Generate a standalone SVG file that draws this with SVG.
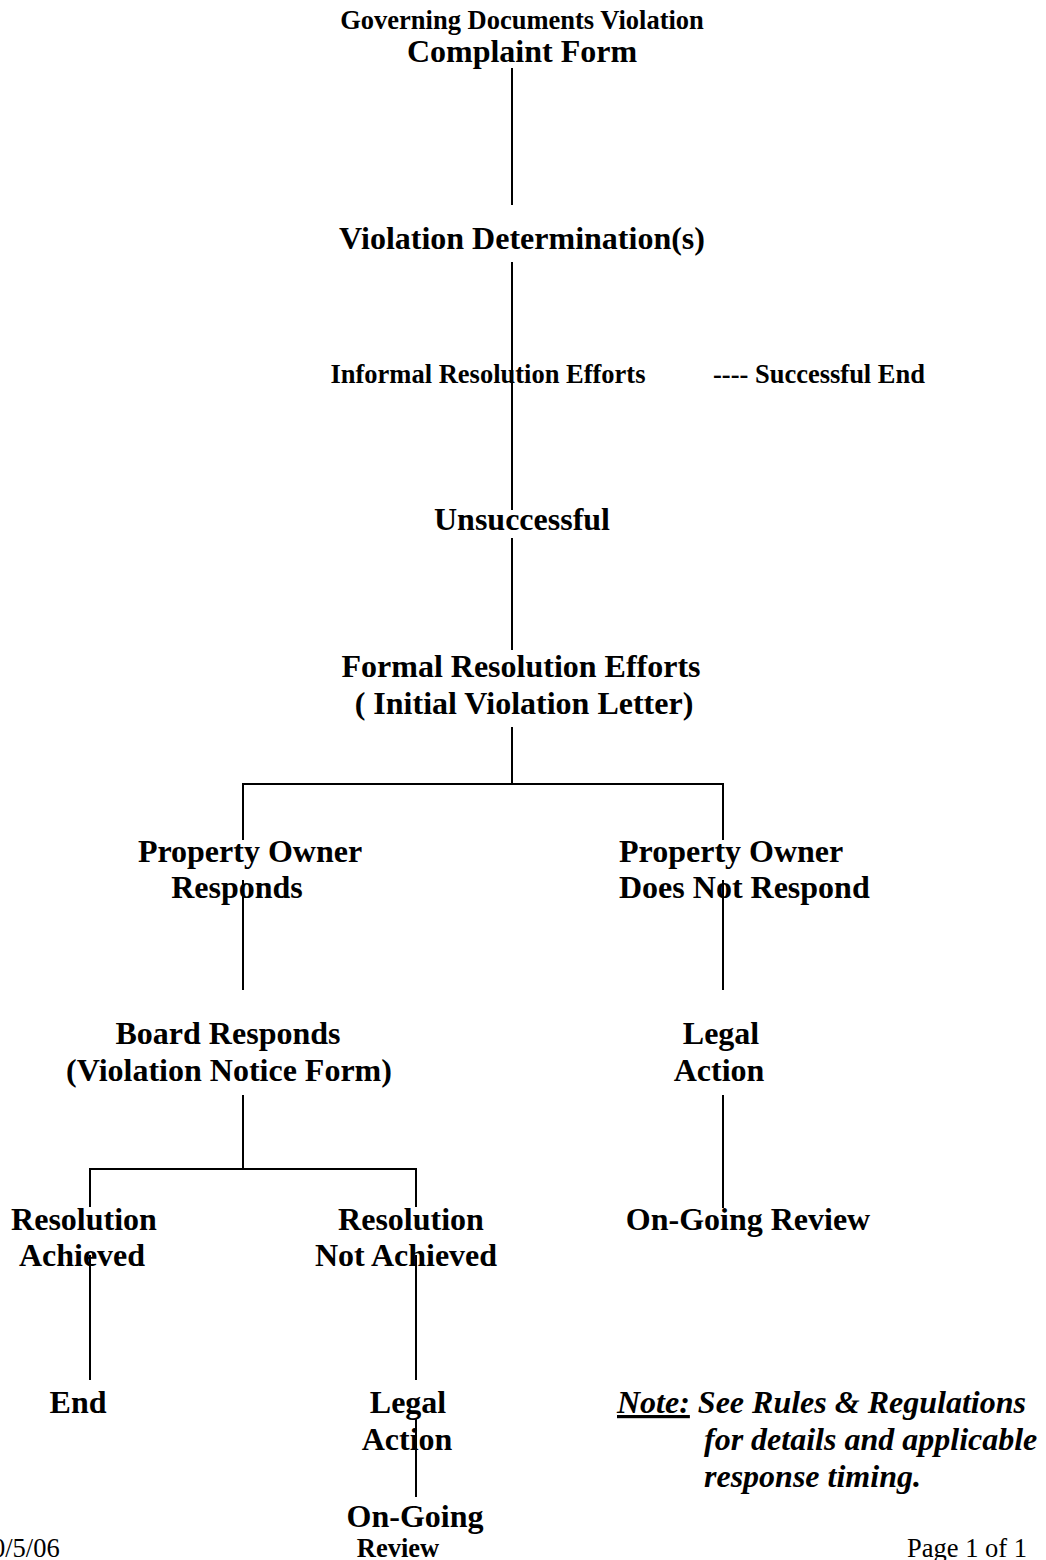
<svg xmlns="http://www.w3.org/2000/svg" width="1046" height="1560" viewBox="0 0 1046 1560">
<style>
text{font-family:"Liberation Serif","Times New Roman",serif;fill:#000}
.b{font-weight:bold;font-size:32px}
.s{font-weight:bold;font-size:26.5px}
.r{font-size:26.5px}
.bi{font-weight:bold;font-style:italic;font-size:32px}
.m{text-anchor:middle}
.c line,.c polyline{stroke:#000;stroke-width:2;fill:none}
</style>
<rect width="1046" height="1560" fill="#fff"/>
<g class="c" id="connectors">
<line x1="512" y1="68" x2="512" y2="205"/>
<line x1="512" y1="262" x2="512" y2="510"/>
<line x1="512" y1="538" x2="512" y2="650"/>
<line x1="512" y1="727" x2="512" y2="784"/>
<polyline points="243,840 243,784 723,784 723,840"/>
<line x1="243" y1="880" x2="243" y2="990"/>
<line x1="723" y1="880" x2="723" y2="990"/>
<line x1="243" y1="1095" x2="243" y2="1169"/>
<polyline points="90,1207 90,1169 416,1169 416,1207"/>
<line x1="723" y1="1095" x2="723" y2="1208"/>
<line x1="90" y1="1255" x2="90" y2="1380"/>
<line x1="416" y1="1255" x2="416" y2="1380"/>
<line x1="416" y1="1418" x2="416" y2="1497"/>
</g>
<g id="n1"><text class="s m" x="522" y="29">Governing Documents Violation</text><text class="b m" x="522" y="62">Complaint Form</text></g>
<g id="n2"><text class="b m" x="522" y="249">Violation Determination(s)</text></g>
<g id="n3"><text class="s m" x="488" y="383">Informal Resolution Efforts</text></g>
<g id="n4"><text class="s" x="713" y="383">---- Successful End</text></g>
<g id="n5"><text class="b m" x="522" y="530">Unsuccessful</text></g>
<g id="n6"><text class="b m" x="521" y="677">Formal Resolution Efforts</text><text class="b m" x="524" y="714">( Initial Violation Letter)</text></g>
<g id="n7"><text class="b m" x="250" y="862">Property Owner</text><text class="b m" x="237" y="898">Responds</text></g>
<g id="n8"><text class="b" x="619" y="862">Property Owner</text><text class="b" x="619" y="898">Does Not Respond</text></g>
<g id="n9"><text class="b m" x="228" y="1044">Board Responds</text><text class="b m" x="229" y="1081">(Violation Notice Form)</text></g>
<g id="n10"><text class="b m" x="721" y="1044">Legal</text><text class="b m" x="719" y="1081">Action</text></g>
<g id="n11"><text class="b m" x="84" y="1230">Resolution</text><text class="b m" x="82" y="1266">Achieved</text></g>
<g id="n12"><text class="b m" x="411" y="1230">Resolution</text><text class="b m" x="406" y="1266">Not Achieved</text></g>
<g id="n13"><text class="b m" x="748" y="1230">On-Going Review</text></g>
<g id="n14"><text class="b m" x="78" y="1413">End</text></g>
<g id="n15"><text class="b m" x="408" y="1413">Legal</text><text class="b m" x="407" y="1450">Action</text></g>
<g id="n16"><text class="b m" x="415" y="1527">On-Going</text><text class="s m" x="398" y="1557">Review</text></g>
<g id="note"><text class="bi" x="617" y="1413"><tspan text-decoration="underline">Note:</tspan> See Rules &amp; Regulations</text><text class="bi" x="704" y="1450">for details and applicable</text><text class="bi" x="704" y="1487">response timing.</text></g>
<g id="footer"><text class="r" x="-8" y="1557">0/5/06</text><text class="r" x="907" y="1557">Page 1 of 1</text></g>
</svg>
